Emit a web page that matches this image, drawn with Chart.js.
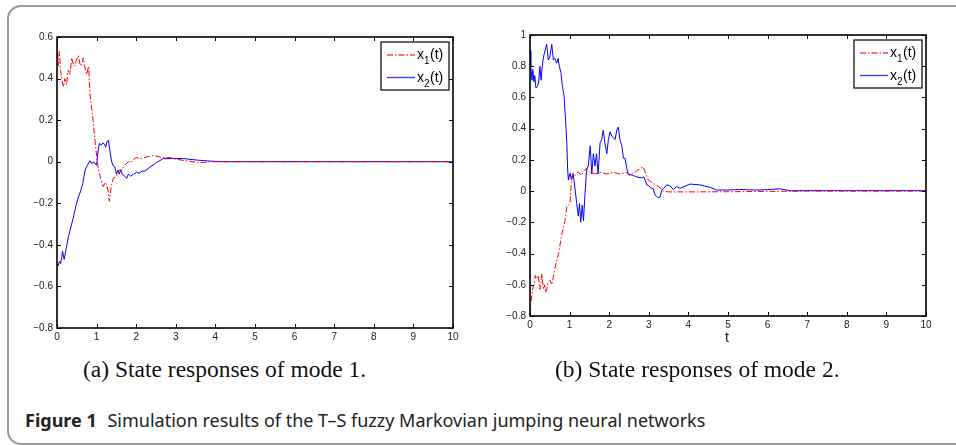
<!DOCTYPE html>
<html>
<head>
<meta charset="utf-8">
<script src="https://cdn.jsdelivr.net/npm/chart.js@4/dist/chart.umd.min.js"></script>
<style>
	body { margin: 0; background: #fff; width: 956px; height: 445px; overflow: hidden; position: relative; }
	.frame { position: absolute; left: 7px; top: 5px; width: 1000px; height: 436px; border: 2px solid #999; border-radius: 14px 0 0 14px; }
	canvas { position: absolute; }
	.sub { position: absolute; font-family: 'Liberation Serif', serif; font-size: 23.5px; color: #111; white-space: nowrap; }
	.tlabel { position: absolute; font-family: 'Liberation Sans', sans-serif; font-size: 14px; color: #111; }
	.fig { position: absolute; left: 25px; top: 408px; font-family: 'Noto Sans', sans-serif; font-size: 18px; color: #222; white-space: nowrap; }
	.fig b { font-weight: 700; margin-right: 6px; }
</style>
</head>
<body>
<div class="frame"></div>
<canvas id="left" width="460" height="320" style="left:10px; top:27px"></canvas>
<canvas id="right" width="465" height="320" style="left:483px; top:25px"></canvas>
<div class="tlabel" style="left:725px; top:329px">t</div>
<div class="sub" style="left:83px; top:356px">(a) State responses of mode 1.</div>
<div class="sub" style="left:555px; top:356px">(b) State responses of mode 2.</div>
<div class="fig"><b>Figure 1</b> Simulation results of the T–S fuzzy Markovian jumping neural networks</div>
<script>
// mode 1
const t_a1 = [0, 0.03, 0.06, 0.09, 0.12, 0.16, 0.2, 0.24, 0.28, 0.33, 0.37, 0.41, 0.45, 0.49, 0.54, 0.58, 0.62, 0.66, 0.71, 0.75, 0.8, 0.83, 0.9, 0.96, 1.0, 1.04, 1.1, 1.17, 1.21, 1.25, 1.29, 1.32, 1.37, 1.42, 1.5, 1.56, 1.63, 1.7, 1.8, 1.86, 1.92, 2.0, 2.1, 2.27, 2.43, 2.55, 2.68, 2.85, 3.02, 3.2, 3.36, 3.55, 3.7, 3.9, 4.5, 10]
const x1_a = [0.58, 0.46, 0.53, 0.44, 0.40, 0.36, 0.40, 0.37, 0.44, 0.42, 0.50, 0.47, 0.46, 0.49, 0.51, 0.47, 0.46, 0.50, 0.45, 0.42, 0.46, 0.33, 0.22, 0.10, 0.03, -0.03, -0.08, -0.12, -0.10, -0.11, -0.14, -0.19, -0.12, -0.08, -0.07, -0.04, -0.04, -0.02, 0.00, -0.005, 0.01, 0.02, 0.015, 0.023, 0.03, 0.025, 0.02, 0.02, 0.012, 0.006, 0.002, -0.004, -0.004, 0, 0, 0]
const t_a2 = [0, 0.03, 0.06, 0.09, 0.12, 0.14, 0.18, 0.24, 0.29, 0.33, 0.41, 0.48, 0.54, 0.6, 0.65, 0.71, 0.76, 0.83, 0.88, 0.92, 0.96, 1.0, 1.04, 1.07, 1.12, 1.16, 1.2, 1.23, 1.26, 1.3, 1.33, 1.38, 1.42, 1.46, 1.5, 1.54, 1.57, 1.61, 1.65, 1.69, 1.76, 1.8, 1.86, 1.93, 2.01, 2.08, 2.15, 2.22, 2.35, 2.51, 2.68, 2.93, 3.19, 3.53, 3.86, 4.2, 10]
const x2_a = [-0.49, -0.50, -0.48, -0.49, -0.46, -0.43, -0.47, -0.41, -0.36, -0.33, -0.27, -0.21, -0.17, -0.14, -0.105, -0.04, -0.02, 0.005, -0.01, 0.0, -0.01, -0.017, 0.055, 0.088, 0.08, 0.09, 0.085, 0.07, 0.095, 0.104, 0.06, 0.0, -0.02, -0.025, -0.06, -0.04, -0.06, -0.04, -0.06, -0.065, -0.08, -0.06, -0.07, -0.06, -0.05, -0.055, -0.045, -0.045, -0.025, -0.005, 0.015, 0.015, 0.015, 0.008, 0.003, 0, 0]

// mode 2
const t_b1 = [0, 0.02, 0.05, 0.08, 0.11, 0.13, 0.17, 0.21, 0.25, 0.3, 0.34, 0.37, 0.4, 0.43, 0.46, 0.5, 0.55, 0.59, 0.63, 0.72, 0.8, 0.88, 0.93, 1.01, 1.05, 1.1, 1.14, 1.22, 1.3, 1.36, 1.43, 1.5, 1.64, 1.77, 1.94, 2.1, 2.27, 2.44, 2.5, 2.65, 2.78, 2.86, 2.92, 2.99, 3.11, 3.24, 3.37, 3.5, 4, 5, 6, 7, 10]
const x1_b = [-0.78, -0.72, -0.66, -0.61, -0.6, -0.54, -0.56, -0.54, -0.63, -0.53, -0.63, -0.6, -0.65, -0.62, -0.58, -0.57, -0.60, -0.55, -0.495, -0.40, -0.28, -0.195, -0.10, -0.08, 0.09, 0.11, 0.10, 0.124, 0.1, 0.13, 0.146, 0.124, 0.11, 0.12, 0.11, 0.12, 0.11, 0.12, 0.1, 0.12, 0.146, 0.156, 0.11, 0.07, 0.05, 0.03, 0.0, -0.005, -0.005, -0.004, -0.002, 0, 0]
const t_b2 = [0, 0.02, 0.05, 0.07, 0.1, 0.12, 0.15, 0.19, 0.22, 0.25, 0.28, 0.31, 0.34, 0.38, 0.42, 0.44, 0.46, 0.5, 0.55, 0.59, 0.63, 0.67, 0.71, 0.74, 0.78, 0.82, 0.86, 0.9, 0.93, 0.95, 0.97, 1.01, 1.05, 1.09, 1.14, 1.18, 1.22, 1.25, 1.28, 1.32, 1.35, 1.39, 1.43, 1.47, 1.52, 1.56, 1.6, 1.64, 1.68, 1.72, 1.77, 1.81, 1.85, 1.89, 1.94, 1.98, 2.02, 2.07, 2.11, 2.15, 2.19, 2.23, 2.27, 2.32, 2.36, 2.4, 2.44, 2.48, 2.61, 2.7, 2.82, 2.88, 2.95, 3.0, 3.05, 3.1, 3.16, 3.22, 3.28, 3.33, 3.39, 3.45, 3.53, 3.62, 3.7, 3.79, 4.04, 4.29, 4.55, 4.71, 4.96, 5.3, 5.72, 6.06, 6.3, 6.57, 7, 10]
const x2_b = [0.90, 0.80, 0.71, 0.78, 0.70, 0.74, 0.66, 0.67, 0.70, 0.80, 0.71, 0.80, 0.86, 0.90, 0.94, 0.90, 0.84, 0.86, 0.94, 0.84, 0.85, 0.82, 0.85, 0.80, 0.76, 0.67, 0.61, 0.45, 0.31, 0.14, 0.07, 0.114, 0.07, 0.114, 0.007, -0.08, -0.16, -0.08, -0.2, -0.09, -0.19, -0.014, 0.14, 0.16, 0.29, 0.11, 0.24, 0.16, 0.24, 0.11, 0.31, 0.33, 0.39, 0.31, 0.24, 0.33, 0.38, 0.35, 0.34, 0.33, 0.39, 0.41, 0.33, 0.29, 0.21, 0.21, 0.15, 0.11, 0.10, 0.09, 0.085, 0.09, 0.04, 0.035, 0.02, 0.02, -0.025, -0.04, -0.04, 0.007, 0.02, 0.04, 0.035, 0.01, 0.03, 0.018, 0.045, 0.04, 0.024, 0.007, 0.007, 0.01, 0.007, 0.01, 0.015, 0.002, 0.003, 0.003]

const x_ticks = [0, 1, 2, 3, 4, 5, 6, 7, 8, 9, 10]
const names = ['x', 'x']
const subs = ['1', '2']

const RED = '#ff0000'
const BLUE = '#0000ff'
const TICK_FONT = { family: 'Liberation Sans', size: 10 }

function pairs (ts, vs) {
	return ts.map((t, i) => ({ x: t, y: vs[i] }))
}

function fmt (v) {
	const r = Math.round(v * 10) / 10
	return String(r).replace('-', '\u2212')
}

// matlab style axes box with ticks pointing inwards
const box_plugin = {
	id: 'matlab_box',
	afterDatasetsDraw (chart) {
		const { ctx, chartArea: a, scales } = chart
		const len = 4
		ctx.save()
		ctx.strokeStyle = '#000'
		ctx.lineWidth = 1
		ctx.beginPath()
		for (const tk of scales.x.ticks) {
			const px = Math.round(scales.x.getPixelForValue(tk.value)) + 0.5
			ctx.moveTo(px, a.bottom); ctx.lineTo(px, a.bottom - len)
			ctx.moveTo(px, a.top); ctx.lineTo(px, a.top + len)
		}
		for (const tk of scales.y.ticks) {
			const py = Math.round(scales.y.getPixelForValue(tk.value)) + 0.5
			ctx.moveTo(a.left, py); ctx.lineTo(a.left + len, py)
			ctx.moveTo(a.right, py); ctx.lineTo(a.right - len, py)
		}
		ctx.stroke()
		ctx.lineWidth = 1.6
		ctx.strokeRect(a.left, a.top, a.right - a.left, a.bottom - a.top)

		// legend
		const bx = a.right - 72, by = a.top + 5, bw = 68, bh = 48
		ctx.fillStyle = '#fff'
		ctx.fillRect(bx, by, bw, bh)
		ctx.lineWidth = 1.2
		ctx.strokeRect(bx, by, bw, bh)
		chart.data.datasets.forEach(function (ds, i) {
			const ly = by + 13 + i * 22.5
			ctx.beginPath()
			ctx.strokeStyle = ds.borderColor
			ctx.globalAlpha = 0.75
			ctx.lineWidth = 1.4
			ctx.setLineDash(ds.borderDash || [])
			ctx.moveTo(bx + 6, ly); ctx.lineTo(bx + 34, ly)
			ctx.stroke()
			ctx.globalAlpha = 1
			ctx.setLineDash([])
			ctx.fillStyle = '#000'
			ctx.textBaseline = 'alphabetic'
			ctx.font = '14px "Liberation Sans"'
			ctx.fillText(names[i], bx + 36, ly + 4)
			const w = ctx.measureText(names[i]).width
			ctx.font = '10px "Liberation Sans"'
			ctx.fillText(subs[i], bx + 36 + w, ly + 9)
			const w2 = ctx.measureText(subs[i]).width
			ctx.font = '14px "Liberation Sans"'
			ctx.fillText('(t)', bx + 36 + w + w2 + 0.5, ly + 4)
		})
		ctx.restore()
	},
}

function make_chart (id, d1, d2, ymin, ymax, xh) {
	return new Chart(document.getElementById(id), {
		type: 'line',
		data: {
			datasets: [
				{ label: 'x1(t)', data: d1, borderColor: RED, borderWidth: 1, borderDash: [6, 2, 1.5, 2] },
				{ label: 'x2(t)', data: d2, borderColor: BLUE, borderWidth: 1 },
			],
		},
		options: {
			responsive: false,
			animation: false,
			devicePixelRatio: 1,
			elements: { point: { radius: 0 }, line: { tension: 0 } },
			layout: { padding: { left: 0, right: id === 'left' ? 17 : 22, top: 10, bottom: 0 } },
			plugins: { legend: { display: false }, tooltip: { enabled: false } },
			scales: {
				x: {
					type: 'linear',
					min: 0,
					max: 10,
					afterBuildTicks: s => { s.ticks = x_ticks.map(v => ({ value: v })) },
					afterFit: s => { s.height = xh },
					grid: { display: false, drawTicks: false },
					border: { display: false },
					ticks: { font: TICK_FONT, color: '#222', padding: 3, maxRotation: 0, callback: v => String(v) },
				},
				y: {
					min: ymin,
					max: ymax,
					afterFit: s => { s.width = 47 },
					grid: { display: false, drawTicks: false },
					border: { display: false },
					ticks: { font: TICK_FONT, color: '#222', padding: 4, stepSize: 0.2, callback: fmt },
				},
			},
		},
		plugins: [box_plugin],
	})
}

make_chart('left', pairs(t_a1, x1_a), pairs(t_a2, x2_a), -0.8, 0.6, 19)
make_chart('right', pairs(t_b1, x1_b), pairs(t_b2, x2_b), -0.8, 1, 29)
</script>
</body>
</html>
